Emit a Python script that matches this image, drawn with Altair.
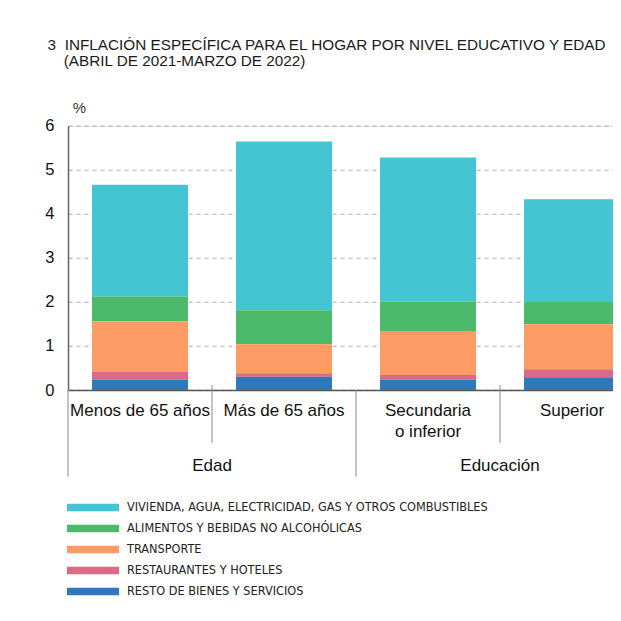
import altair as alt
import pandas as pd

# ---------------- data ----------------
categories = ["Menos de 65 años", "Más de 65 años", "Secundaria\no inferior", "Superior"]
components = [
    "VIVIENDA, AGUA, ELECTRICIDAD, GAS Y OTROS COMBUSTIBLES",
    "ALIMENTOS Y BEBIDAS NO ALCOHÓLICAS",
    "TRANSPORTE",
    "RESTAURANTES Y HOTELES",
    "RESTO DE BIENES Y SERVICIOS",
]
vivienda = [2.54, 3.83, 3.27, 2.33]
alimentos = [0.56, 0.77, 0.69, 0.51]
transporte = [1.15, 0.66, 0.98, 1.02]
restaurantes = [0.17, 0.08, 0.10, 0.18]
resto = [0.24, 0.30, 0.24, 0.29]
series = [vivienda, alimentos, transporte, restaurantes, resto]
colors = ["#45C4D3", "#4BBA6A", "#FC9B63", "#DB6A84", "#2F78B9"]

groups = ["Edad", "Educación"]
group_anchor = [categories[1], categories[3]]
long_seps = [categories[0], categories[2]]
short_seps = [categories[1], categories[3]]

title_num = "3"
title_lines = ["INFLACIÓN ESPECÍFICA PARA EL HOGAR POR NIVEL EDUCATIVO Y EDAD",
               "(ABRIL DE 2021-MARZO DE 2022)"]

rows = []
for ci, comp in enumerate(components):
    for k, cat in enumerate(categories):
        rows.append({"cat": cat, "comp": comp, "value": series[ci][k],
                     "ord": len(components) - 1 - ci})
df = pd.DataFrame(rows)

FONT = "Liberation Sans, Arial, sans-serif"
NARROW = "Liberation Sans Narrow, DejaVu Sans Condensed, sans-serif"
W, H = 545, 264.3

xscale = alt.Scale(domain=categories, range=[0, 552], paddingInner=1 / 3,
                   paddingOuter=1 / 12, align=1)
xaxis = alt.Axis(title=None, labelExpr="split(datum.label, '\\n')", labelFont=FONT,
                 labelFontSize=17, labelColor="#111", labelPadding=12, labelLineHeight=21,
                 ticks=False, tickSize=0, domainColor="#555", domainWidth=1.5, labelAngle=0,
                 grid=False)

bars = alt.Chart(df).mark_bar(size=96).encode(
    x=alt.X("cat:N", scale=xscale, axis=xaxis, sort=categories),
    y=alt.Y("value:Q", stack="zero",
            scale=alt.Scale(domain=[0, 6]),
            axis=alt.Axis(values=[0, 1, 2, 3, 4, 5, 6], title="%", titleAngle=0,
                          titleX=11, titleY=-18, titleAlign="center", titleBaseline="middle",
                          titleFont=FONT, titleFontSize=15, titleFontWeight="normal",
                          titleColor="#333",
                          labelFont=FONT, labelFontSize=16.5, labelColor="#111",
                          labelPadding=14, ticks=False, tickSize=0,
                          domainColor="#666", domainWidth=1.5,
                          gridColor="#aaa", gridDash=[4, 4], gridWidth=1)),
    color=alt.Color("comp:N", scale=alt.Scale(domain=components, range=colors),
                    legend=alt.Legend(title=None, orient="none", legendX=-1, legendY=371.5,
                                      symbolType="M-1,-0.144L1,-0.144L1,0.144L-1,0.144Z",
                                      symbolSize=2704, symbolStrokeWidth=0, symbolOpacity=1,
                                      labelFont=NARROW, labelFontSize=12.6, labelColor="#222",
                                      labelOffset=8, clipHeight=20.4, rowPadding=0,
                                      labelLimit=600, padding=0, direction="vertical")),
    order=alt.Order("ord:Q", sort="ascending"),
)

xsep = alt.X("cat:N", scale=xscale, axis=xaxis, sort=categories, bandPosition=0)

long_rules = alt.Chart(pd.DataFrame({"cat": long_seps})).mark_rule(
    color="#888", strokeWidth=1, xOffset=-24).encode(
    x=xsep, y=alt.value(H), y2=alt.value(351))
short_rules = alt.Chart(pd.DataFrame({"cat": short_seps})).mark_rule(
    color="#888", strokeWidth=1, xOffset=-24).encode(
    x=xsep, y=alt.value(259.3), y2=alt.value(317.3))
group_text = alt.Chart(pd.DataFrame({"cat": group_anchor, "g": groups})).mark_text(
    font=FONT, fontSize=17, color="#111", xOffset=-24, baseline="middle", align="center").encode(
    x=xsep, y=alt.value(340.3), text="g:N")

t_num = alt.Chart(pd.DataFrame({"t": [title_num]})).mark_text(
    font=FONT, fontSize=15.3, color="#1a1a1a", align="left", baseline="alphabetic").encode(
    x=alt.value(-20.4), y=alt.value(-76.2), text="t:N")
t_l1 = alt.Chart(pd.DataFrame({"t": [title_lines[0]]})).mark_text(
    font=FONT, fontSize=15.3, color="#1a1a1a", align="left", baseline="alphabetic").encode(
    x=alt.value(-3.3), y=alt.value(-76.2), text="t:N")
t_l2 = alt.Chart(pd.DataFrame({"t": [title_lines[1]]})).mark_text(
    font=FONT, fontSize=15.3, color="#1a1a1a", align="left", baseline="alphabetic").encode(
    x=alt.value(-4.3), y=alt.value(-60.2), text="t:N")

chart = alt.layer(bars, long_rules, short_rules, group_text, t_num, t_l1, t_l2).properties(
    width=W, height=H,
    autosize=alt.AutoSizeParams(type="none"),
    padding={"left": 60, "top": 117.7, "right": 0, "bottom": 220},
).configure_view(stroke=None).configure(background="white")

chart.save("out.html", embed_options={"renderer": "svg", "actions": False})
